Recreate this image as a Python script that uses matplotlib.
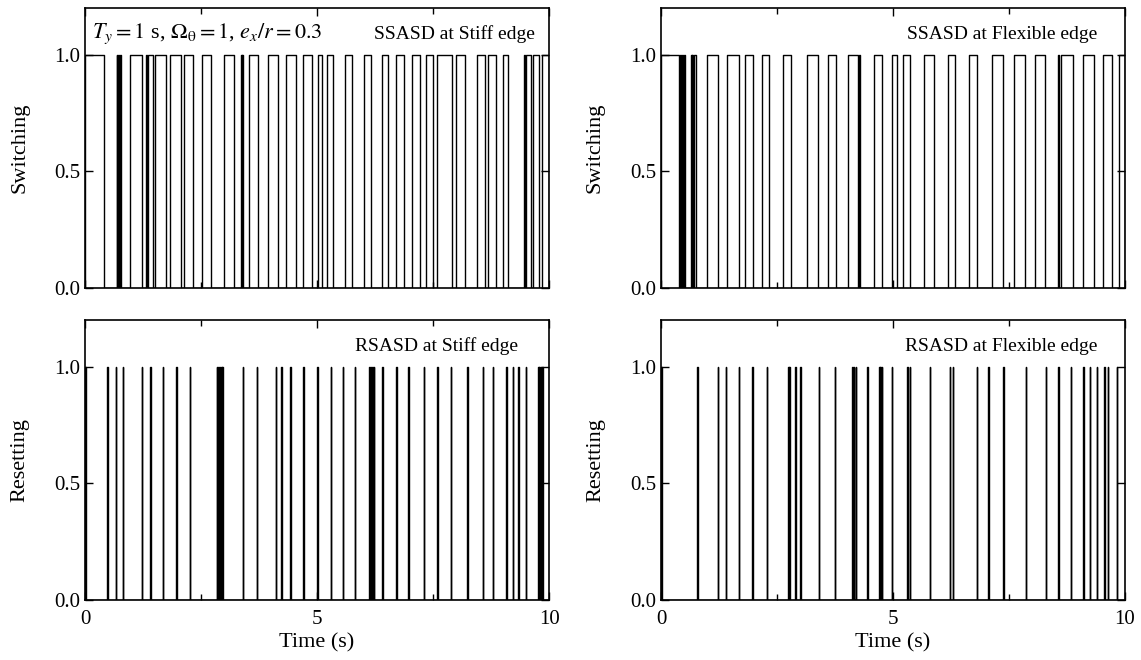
import numpy as np
import matplotlib.pyplot as plt
from matplotlib.ticker import MultipleLocator

plt.rcParams['font.family'] = ['Liberation Serif', 'DejaVu Serif']
plt.rcParams['mathtext.fontset'] = 'stix'

# on/off intervals (s) of the semi-active dampers
stiff_switch = [(0.0, 0.42), (0.68, 0.70), (0.72, 0.74), (0.75, 0.77), (0.96, 1.23),
                (1.32, 1.33), (1.35, 1.46), (1.50, 1.75), (1.83, 2.07), (2.14, 2.32),
                (2.52, 2.72), (3.00, 3.20), (3.36, 3.38), (3.39, 3.41), (3.53, 3.72),
                (3.95, 4.15), (4.34, 4.54), (4.69, 4.90), (5.02, 5.10), (5.22, 5.34),
                (5.60, 5.76), (6.01, 6.16), (6.39, 6.53), (6.71, 6.88), (7.04, 7.21),
                (7.34, 7.50), (7.58, 7.91), (7.99, 8.18), (8.45, 8.61), (8.69, 8.85),
                (9.00, 9.12), (9.46, 9.48), (9.51, 9.61), (9.66, 9.78), (9.84, 10.0)]
flex_switch = [(0.0, 0.39), (0.41, 0.43), (0.45, 0.47), (0.49, 0.51), (0.64, 0.66),
               (0.68, 0.70), (0.72, 0.75), (1.00, 1.22), (1.43, 1.68), (1.81, 1.99),
               (2.17, 2.33), (2.62, 2.81), (3.15, 3.38), (3.59, 3.77), (4.04, 4.25),
               (4.27, 4.30), (4.59, 4.76), (4.97, 5.09), (5.21, 5.36), (5.67, 5.88),
               (6.18, 6.34), (6.63, 6.80), (7.13, 7.37), (7.61, 7.84), (8.06, 8.27),
               (8.55, 8.58), (8.62, 8.88), (9.10, 9.34), (9.53, 9.71), (9.87, 10.0)]

# reset instants (s)
stiff_reset = [0.01, 0.48, 0.66, 0.81, 1.22, 1.41, 1.67, 1.97, 2.26, 2.84, 2.87, 2.90,
               2.93, 2.96, 3.40, 3.70, 4.11, 4.23, 4.42, 4.70, 5.00, 5.29, 5.55, 5.81,
               6.13, 6.16, 6.19, 6.22, 6.40, 6.70, 6.97, 7.30, 7.59, 7.88, 8.24, 8.57,
               8.79, 9.08, 9.22, 9.33, 9.50, 9.76, 9.79, 9.82, 9.85]
flex_reset = [0.01, 0.78, 1.22, 1.40, 1.68, 1.97, 2.28, 2.74, 2.77, 2.89, 3.00, 3.40,
              3.74, 4.12, 4.15, 4.20, 4.44, 4.70, 4.73, 4.76, 4.97, 5.31, 5.36, 5.79,
              6.22, 6.29, 6.80, 7.05, 7.37, 7.86, 8.29, 8.56, 8.83, 9.10, 9.24, 9.39,
              9.55, 9.63, 9.82]
reset_hold = 0.012

titles = ['SSASD at Stiff edge', 'SSASD at Flexible edge',
          'RSASD at Stiff edge', 'RSASD at Flexible edge']
ylabels = ['Switching', 'Switching', 'Resetting', 'Resetting']


def pulse_train(intervals):
    t, y = [0.0], [0.0]
    for a, b in intervals:
        t += [a, a, b, b]
        y += [0, 1, 1, 0]
    t.append(10.0)
    y.append(0.0)
    return np.array(t), np.array(y)


signals = [stiff_switch, flex_switch,
           [(s, s + reset_hold) for s in stiff_reset],
           [(s, s + reset_hold) for s in flex_reset]]

fig, axes = plt.subplots(2, 2, figsize=(11.41, 6.6), dpi=100)
fig.subplots_adjust(left=0.0745, right=0.986, top=0.988, bottom=0.091,
                    wspace=0.241, hspace=0.114)

text_x = [0.97, 0.94, 0.933, 0.94]
for i, ax in enumerate(axes.flat):
    t, y = pulse_train(signals[i])
    ax.plot(t, y, color='black', lw=1.0)
    ax.set_xlim(0, 10)
    ax.set_ylim(0, 1.2)
    ax.xaxis.set_major_locator(MultipleLocator(5))
    ax.xaxis.set_minor_locator(MultipleLocator(2.5))
    ax.set_yticks([0, 0.5, 1.0], ['0.0', '0.5', '1.0'])
    ax.tick_params(which='both', direction='in', top=True, right=True,
                   labelsize=15, width=1.0)
    ax.tick_params(which='major', length=6)
    ax.tick_params(which='minor', length=4)
    ax.tick_params(axis='x', pad=7)
    for sp in ax.spines.values():
        sp.set_linewidth(1.2)
    ax.set_ylabel(ylabels[i], fontsize=16, labelpad=18)
    ax.text(text_x[i], 0.905, titles[i], transform=ax.transAxes,
            ha='right', va='center', fontsize=14)
    if i < 2:
        ax.set_xticklabels([])
    else:
        ax.set_xlabel('Time (s)', fontsize=16, labelpad=3)

axes[0, 0].text(0.015, 0.95, r'$T_y = 1$ s, $\Omega_{\mathrm{θ}} = 1$, $e_x/r = 0.3$',
                transform=axes[0, 0].transAxes, ha='left', va='top', fontsize=16)

plt.savefig('out.png')
